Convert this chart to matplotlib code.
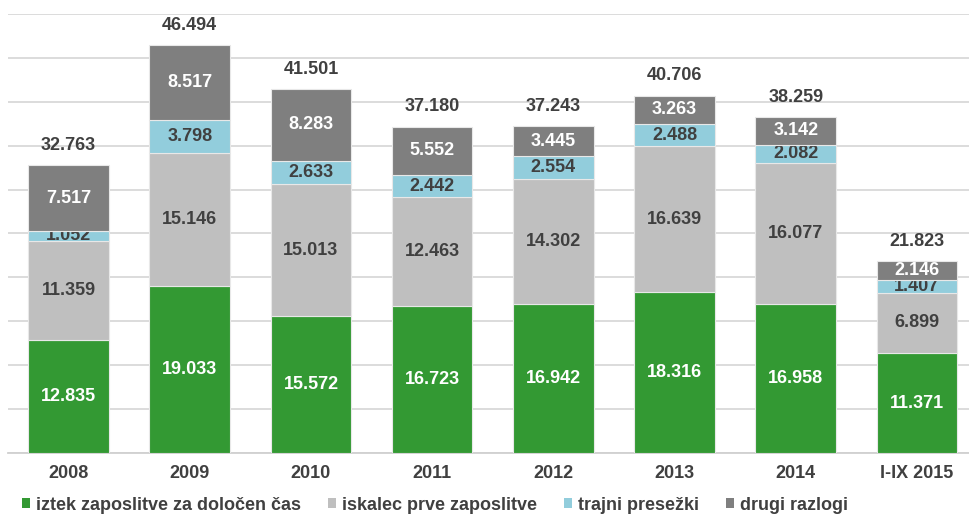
import numpy as np
import matplotlib
matplotlib.use('Agg')
import matplotlib.pyplot as plt
from matplotlib.patches import Patch

# podatki
years = ['2008', '2009', '2010', '2011', '2012', '2013', '2014', 'I-IX 2015']
iztek = [12835, 19033, 15572, 16723, 16942, 18316, 16958, 11371]
iskalec = [11359, 15146, 15013, 12463, 14302, 16639, 16077, 6899]
trajni = [1052, 3798, 2633, 2442, 2554, 2488, 2082, 1407]
drugi = [7517, 8517, 8283, 5552, 3445, 3263, 3142, 2146]
totals = [32763, 46494, 41501, 37180, 37243, 40706, 38259, 21823]

series_names = ['iztek zaposlitve za določen čas', 'iskalec prve zaposlitve',
                'trajni presežki', 'drugi razlogi']
colors = ['#339933', '#bfbfbf', '#92cddc', '#7f7f7f']
txt_colors = ['white', '#404040', '#404040', 'white']
dark = '#404040'


def fmt(v):
    # slovenski zapis tisočic s piko
    return '{:,}'.format(v).replace(',', '.')


plt.rcParams['font.family'] = ['Liberation Sans', 'DejaVu Sans']

fig = plt.figure(figsize=(9.69, 5.15), dpi=100)
ax = fig.add_axes([8 / 969, 1 - 453 / 515, 1 - 8 / 969, (453 - 14) / 515])

x = np.arange(len(years))
width = 0.665
bottom = np.zeros(len(years))
for data, col, tcol in zip([iztek, iskalec, trajni, drugi], colors, txt_colors):
    vals = np.array(data)
    bars = ax.bar(x, vals, width, bottom=bottom, color=col, edgecolor='#e8e8e8',
                  linewidth=0.8, zorder=3)
    ax.bar_label(bars, labels=[fmt(v) for v in data], label_type='center',
                 color=tcol, fontsize=13, fontweight='bold')
    bottom += vals

for xi, t in zip(x, totals):
    ax.annotate(fmt(t), (xi, t), xytext=(0, 8), textcoords='offset points',
                ha='center', va='bottom', fontsize=13, fontweight='bold', color=dark)

ax.set_ylim(0, 50000)
ax.set_xlim(-0.5, 7.43)
ax.set_yticks(np.arange(0, 50001, 5000))
ax.set_yticklabels([])
ax.grid(axis='y', color='#d9d9d9', linewidth=1.3, zorder=0)
ax.set_axisbelow(True)
for s in ['top', 'right', 'left']:
    ax.spines[s].set_visible(False)
ax.spines['bottom'].set_color('#d0d0d0')
ax.spines['bottom'].set_linewidth(1.3)
ax.tick_params(axis='both', length=0)
ax.tick_params(axis='x', pad=9)
ax.set_xticks(x)
ax.set_xticklabels(years, fontsize=13, fontweight='bold', color=dark)

# legenda spodaj
handles = [Patch(facecolor=c, edgecolor='none') for c in colors]
fig.legend(handles, series_names, loc='center left',
           bbox_to_anchor=(22 / 969, 1 - 505 / 515),
           ncol=4, frameon=False, borderpad=0, borderaxespad=0,
           handlelength=0.44, handleheight=0.44,
           handletextpad=0.33, columnspacing=1.5,
           prop={'size': 13, 'weight': 'bold'}, labelcolor=dark)

plt.savefig('out.png', dpi=100)
